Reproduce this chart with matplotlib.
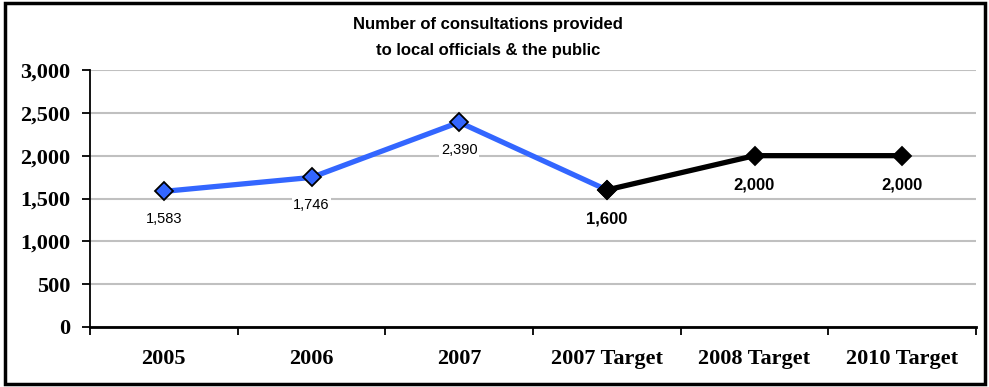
import matplotlib
matplotlib.use("Agg")
import matplotlib.pyplot as plt
from matplotlib.patches import Rectangle
from matplotlib.ticker import FuncFormatter, FixedLocator

categories = ["2005", "2006", "2007", "2007 Target", "2008 Target", "2010 Target"]
actual_values = [1583, 1746, 2390, 1600]
target_values = [1600, 2000, 2000]
title_lines = ["Number of consultations provided", "to local officials & the public"]
y_ticks = [0, 500, 1000, 1500, 2000, 2500, 3000]

fig = plt.figure(figsize=(9.89, 3.87), dpi=100)
ax = fig.add_axes([90/989, (387-327)/387, (976-90)/989, (327-70)/387])

x_actual = list(range(len(actual_values)))
x_target = list(range(3, 3 + len(target_values)))

ax.plot(x_actual, actual_values, color="#3366FF", lw=3.8, marker="D", ms=9,
        mfc="#3366FF", mec="black", mew=1.3, zorder=3, solid_capstyle="butt")
ax.plot(x_target, target_values, color="black", lw=3.8, marker="D", ms=9,
        mfc="black", mec="black", mew=1.3, zorder=4)

for x, v in zip(x_actual[:3], actual_values[:3]):
    ax.annotate(f"{v:,}", (x, v), xytext=(0, -20), textcoords="offset points",
                ha="center", va="center", fontsize=10.5, family="Liberation Sans",
                bbox=dict(boxstyle="square,pad=0.1", fc="white", ec="none"), zorder=2)
for x, v in zip(x_target, target_values):
    ax.annotate(f"{v:,}", (x, v), xytext=(0, -21), textcoords="offset points",
                ha="center", va="center", fontsize=12, fontweight="bold",
                family="Liberation Sans", zorder=2)

ax.set_xlim(-0.5, len(categories) - 0.5)
ax.set_ylim(0, 3000)
ax.yaxis.set_major_locator(FixedLocator(y_ticks))
ax.yaxis.set_major_formatter(FuncFormatter(lambda v, p: f"{int(v):,}"))
ax.grid(axis="y", color="#C0C0C0", lw=1.5, zorder=0)
ax.set_axisbelow(True)

ax.set_xticks([i + 0.5 for i in range(-1, len(categories))])
ax.set_xticklabels([])
ax.set_xticks(range(len(categories)), minor=True)
ax.set_xticklabels(categories, minor=True)
ax.tick_params(axis="x", which="major", direction="out", length=6, width=1.3)
ax.tick_params(axis="x", which="minor", length=0, pad=16)
ax.tick_params(axis="y", direction="out", length=6, width=1.3, pad=8)
for lab in ax.get_xticklabels(minor=True) + ax.get_yticklabels():
    lab.set_family("Liberation Serif")
    lab.set_fontweight("bold")
    lab.set_fontsize(16)

for s in ["top", "right"]:
    ax.spines[s].set_visible(False)
ax.spines["left"].set_linewidth(1.3)
ax.spines["bottom"].set_linewidth(2)

fig.text(488/989, 1 - 24/387, title_lines[0], ha="center", va="center",
         fontsize=12, fontweight="bold", family="Liberation Sans")
fig.text(488/989, 1 - 51/387, title_lines[1], ha="center", va="center",
         fontsize=12, fontweight="bold", family="Liberation Sans")

fig.patches.append(Rectangle((5/989, 1 - 384/387), 980/989, 381/387,
                             transform=fig.transFigure, fill=False, ec="black", lw=2.5))

fig.savefig("out.png", dpi=100)
